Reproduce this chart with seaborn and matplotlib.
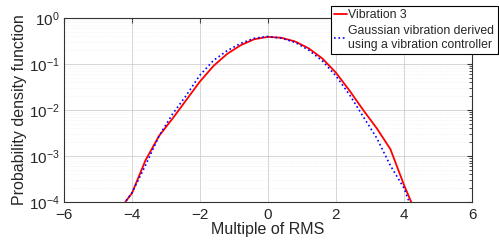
import matplotlib
matplotlib.use("Agg")
import numpy as np
import pandas as pd
import matplotlib.pyplot as plt
import seaborn as sns

# Data (multiple of RMS, PDF values)
rms_multiple = [-4.4, -4.0, -3.6, -3.2, -2.8, -2.4, -2.0, -1.6, -1.2, -0.8, -0.4, 0.0,
                0.4, 0.8, 1.2, 1.6, 2.0, 2.4, 2.8, 3.2, 3.6, 4.0, 4.4]
pdf_vibration3 = [6.3e-5, 1.55e-4, 8.1e-4, 2.75e-3, 6.6e-3, 0.0166, 0.0417, 0.0912, 0.166,
                  0.257, 0.347, 0.389, 0.372, 0.309, 0.219, 0.132, 0.0646, 0.0263,
                  0.0100, 0.0040, 1.41e-3, 2.34e-4, 4.7e-5]
pdf_gaussian = [6.3e-5, 1.58e-4, 6.3e-4, 2.75e-3, 8.3e-3, 0.0209, 0.0575, 0.120, 0.195,
                0.282, 0.363, 0.398, 0.363, 0.295, 0.200, 0.117, 0.055, 0.0214,
                7.2e-3, 2.45e-3, 6.2e-4, 2.0e-4, 3.2e-5]
series_names = ["Vibration 3",
                "Gaussian vibration derived\nusing a vibration controller"]

df = pd.concat([
    pd.DataFrame({"x": rms_multiple, "pdf": pdf_vibration3, "series": series_names[0]}),
    pd.DataFrame({"x": rms_multiple, "pdf": pdf_gaussian, "series": series_names[1]}),
])

sns.set_style("white")
plt.rcParams["font.family"] = ["Liberation Sans", "DejaVu Sans"]
plt.rcParams["mathtext.fontset"] = "custom"
plt.rcParams["mathtext.rm"] = "Liberation Sans"

fig = plt.figure(figsize=(4.99, 2.47), dpi=100)
ax = fig.add_axes([0.128, 0.182, 0.818, 0.745])

sns.lineplot(data=df, x="x", y="pdf", hue="series", style="series",
             palette=["#ff0000", "#0000ff"], dashes=[(None, None), (1, 1)],
             linewidth=1.3, ax=ax, legend=False, sort=False)
ax.lines[1].set_linestyle(":")
ax.lines[1].set_linewidth(1.2)

ax.set_yscale("log")
ax.set_xlim(-6, 6)
ax.set_ylim(1e-4, 1)
ax.set_xticks([-6, -4, -2, 0, 2, 4, 6])
ax.set_xticklabels(["\u22126", "\u22124", "\u22122", "0", "2", "4", "6"])

ax.grid(True, which="major", color="#cfcfcf", linewidth=0.6)
ax.grid(True, which="minor", axis="y", color="#ececec", linewidth=0.5, linestyle=":")
ax.tick_params(which="both", direction="in", top=True, right=True, labelsize=11,
               color="#333333", pad=3)
ax.tick_params(axis="x", pad=4.5)
ax.tick_params(which="minor", length=2)
for s in ax.spines.values():
    s.set_color("#333333")
    s.set_linewidth(0.8)

ax.set_xlabel("Multiple of RMS", fontsize=11.5, labelpad=0)
ax.set_ylabel("Probability density function", fontsize=11.5, labelpad=1)

leg = fig.legend(handles=ax.lines[:2], labels=series_names, loc="upper right",
                 bbox_to_anchor=(0.997, 0.977), fontsize=8.8, frameon=True,
                 fancybox=False, edgecolor="black", framealpha=1,
                 handlelength=1.0, handletextpad=0.1, borderpad=0.3,
                 labelspacing=0.3, borderaxespad=0)
leg.get_frame().set_linewidth(0.8)

fig.savefig("out.png", dpi=100)
